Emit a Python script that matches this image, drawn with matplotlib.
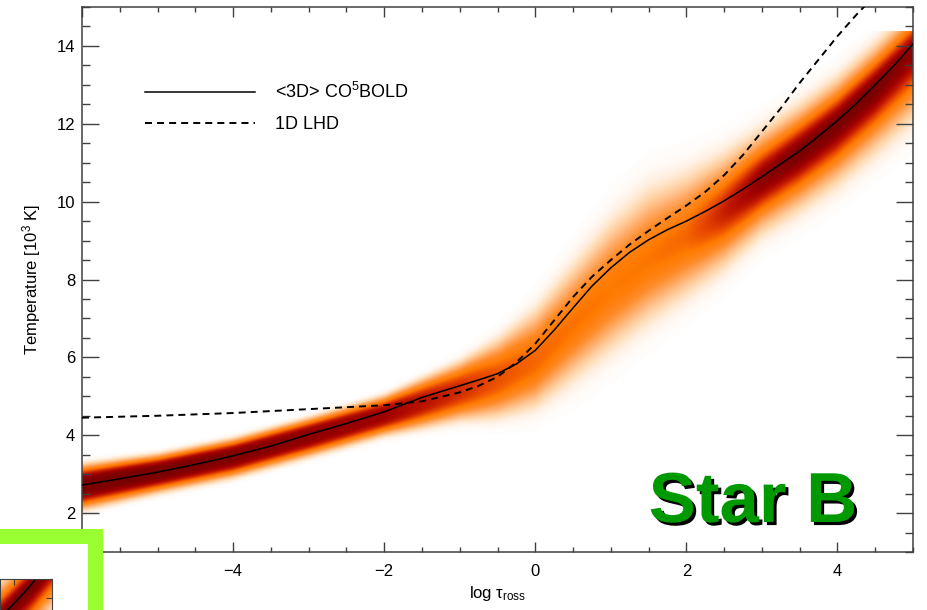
import matplotlib
matplotlib.use("Agg")
import matplotlib.pyplot as plt
import matplotlib.patheffects as pe
from matplotlib.colors import LinearSegmentedColormap
from matplotlib.lines import Line2D
from matplotlib.patches import Rectangle
from matplotlib.ticker import MultipleLocator, FuncFormatter
import numpy as np

plt.rcParams['font.family'] = ['Liberation Sans', 'DejaVu Sans']
plt.rcParams['mathtext.fontset'] = 'custom'
plt.rcParams['mathtext.rm'] = 'Liberation Sans'
plt.rcParams['mathtext.it'] = 'Liberation Sans'

# <3D> CO5BOLD mean temperature profile
mean_x = [-6.0, -5.5, -5.0, -4.5, -4.0, -3.5, -3.0, -2.5, -2.0, -1.5, -1.0, -0.75, -0.5, -0.25,
          0.0, 0.25, 0.5, 0.75, 1.0, 1.25, 1.5, 1.75, 2.0, 2.25, 2.5, 2.75, 3.0, 3.25,
          3.5, 3.75, 4.0, 4.25, 4.5, 4.75, 5.0]
mean_t = [2.72, 2.88, 3.05, 3.25, 3.47, 3.72, 4.02, 4.3, 4.6, 4.97, 5.27, 5.42, 5.58, 5.83,
          6.18, 6.7, 7.27, 7.83, 8.3, 8.7, 9.02, 9.28, 9.5, 9.75, 10.02, 10.32, 10.64, 10.97,
          11.3, 11.68, 12.08, 12.52, 13.0, 13.5, 14.05]

# 1D LHD temperature profile
lhd_x = [-6.0, -5.0, -4.0, -3.0, -2.0, -1.5, -1.0, -0.75, -0.5, -0.25, 0.0, 0.25, 0.5, 0.75,
         1.0, 1.25, 1.5, 1.75, 2.0, 2.25, 2.5, 2.75, 3.0, 3.25, 3.5, 3.75, 4.0, 4.25, 4.4]
lhd_t = [4.45, 4.5, 4.57, 4.67, 4.77, 4.87, 5.1, 5.27, 5.5, 5.87, 6.35, 6.95, 7.55, 8.07,
         8.5, 8.9, 9.25, 9.58, 9.9, 10.25, 10.68, 11.2, 11.8, 12.4, 13.05, 13.65, 14.25, 14.8, 15.1]

# 3D temperature distribution (band)
band_x = [-6, -5, -4, -3, -2, -1, -0.5, 0, 0.5, 1, 1.5, 2, 2.5, 3, 3.5, 4, 4.5, 5]
band_mid = [2.7, 3.05, 3.45, 3.98, 4.52, 5.15, 5.45, 5.9, 6.85, 7.75, 8.5, 9.1, 9.75, 10.55, 11.25, 12.0, 12.9, 13.9]
band_up = [0.65, 0.55, 0.55, 0.55, 0.6, 0.9, 1.25, 1.7, 2.0, 2.3, 2.4, 2.1, 1.85, 1.6, 1.5, 1.45, 1.4, 1.3]
band_dn = [0.75, 0.65, 0.65, 0.65, 0.65, 0.95, 1.25, 1.55, 1.9, 2.1, 2.1, 2.0, 1.85, 1.7, 1.8, 1.9, 2.0, 2.2]
band_peak = [1.0, 1.0, 0.98, 0.95, 0.9, 0.75, 0.66, 0.6, 0.57, 0.55, 0.56, 0.6, 0.78, 0.95, 1.0, 1.0, 1.0, 0.95]
band_pow = [3.5, 3.5, 3.5, 3.5, 3.3, 3.0, 2.7, 2.4, 2.2, 2.2, 2.2, 2.2, 2.2, 2.2, 2.2, 2.2, 2.2, 2.2]
t_max_hist = 14.4

cmap = LinearSegmentedColormap.from_list("heat", [
    (0.0, "#ffffff"), (0.04, "#fff3e8"), (0.12, "#ffd9b0"), (0.25, "#ffb070"),
    (0.4, "#ff8c2a"), (0.55, "#ff7a00"), (0.68, "#e84800"), (0.8, "#c01800"),
    (0.9, "#a00000"), (1.0, "#7a0000")])

gx = np.linspace(-6, 5, 600)
gt = np.linspace(1, 15, 500)
X, T = np.meshgrid(gx, gt)
mid = np.interp(X, band_x, band_mid)
up = np.interp(X, band_x, band_up)
dn = np.interp(X, band_x, band_dn)
peak = np.interp(X, band_x, band_peak)
pw = np.interp(X, band_x, band_pow)
d = T - mid
s = np.where(d > 0, up, dn)
k = 3.5 ** (1 / pw)
dens = peak * np.exp(-(np.abs(d) / s * k) ** pw)
dens[T > t_max_hist] = 0

fig = plt.figure(figsize=(9.27, 6.10), dpi=100)
ax = fig.add_axes([82 / 927, 1 - 552 / 610, 831 / 927, 545 / 610])

ax.imshow(dens, extent=[-6, 5, 1, 15], origin='lower', aspect='auto',
          cmap=cmap, vmin=0, vmax=1, interpolation='bilinear', zorder=1)
ax.plot(mean_x, mean_t, color='black', lw=1.1, zorder=3)
ax.plot(lhd_x, lhd_t, color='black', lw=1.4, ls=(0, (3.6, 2.6)), zorder=3)

ax.set_xlim(-6, 5)
ax.set_ylim(1, 15)
ax.xaxis.set_major_locator(MultipleLocator(2))
ax.xaxis.set_minor_locator(MultipleLocator(0.5))
ax.yaxis.set_major_locator(MultipleLocator(2))
ax.yaxis.set_minor_locator(MultipleLocator(0.5))
ax.tick_params(axis='both', which='both', direction='in', top=True, right=True,
               labelsize=12, color='#404040', width=1)
ax.tick_params(axis='x', which='major', length=7, pad=9)
ax.tick_params(axis='x', which='minor', length=3.5)
ax.tick_params(axis='y', which='major', length=12, pad=5)
ax.tick_params(axis='y', which='minor', length=6)
for sp in ax.spines.values():
    sp.set_color('#404040')
    sp.set_linewidth(1.1)
ax.xaxis.set_major_formatter(FuncFormatter(lambda v, p: f"{v:g}".replace('-', '\u2212')))
ax.yaxis.set_major_formatter(FuncFormatter(lambda v, p: f"{v:g}"))

ax.set_xlabel(r'log τ$_{\mathrm{ross}}$', fontsize=12, labelpad=3)
ax.set_ylabel(r'Temperature [10$^{3}$ K]', fontsize=12, labelpad=10)

handles = [Line2D([], [], color='black', lw=1.1),
           Line2D([], [], color='black', lw=1.4, ls=(0, (3.6, 2.6)))]
ax.legend(handles, [r'<3D> CO$^{5}$BOLD', '1D LHD'], loc='upper left',
          bbox_to_anchor=(0.0758, 0.862), frameon=False, fontsize=13,
          handlelength=6.1, handletextpad=1.1, labelspacing=0.75,
          borderpad=0, borderaxespad=0)

ax.text(0.8075, 0.055, 'Star B', transform=ax.transAxes, ha='center', va='baseline',
        fontsize=51, fontweight='bold', color='#009a00', zorder=5,
        path_effects=[pe.SimplePatchShadow(offset=(2.2, -2.2), shadow_rgbFace='black', alpha=1),
                      pe.Normal()])

# green frame of the neighbouring panel
fig.add_artist(Rectangle((-20 / 927, -20 / 610), (94.5 + 20) / 927, (610 - 535.5 + 20) / 610,
                         transform=fig.transFigure, facecolor='white', edgecolor='#99ff33',
                         linewidth=10.8, zorder=5))

# small piece of the neighbouring panel
ins = fig.add_axes([0, 0, 52 / 927, 31 / 610], zorder=10)
ins.imshow(dens, extent=[-6, 5, 1, 15], origin='lower', aspect='auto',
           cmap=cmap, vmin=0, vmax=1, interpolation='bilinear')
ins.plot(mean_x, mean_t, color='black', lw=1.1)
ins.set_xlim(3.3, 4.5)
ins.set_ylim(11.27, 12.3)
ins.set_xticks([3.62])
ins.set_yticks([11.67])
ins.tick_params(direction='in', top=True, right=True, bottom=False, left=False,
                labelbottom=False, labelleft=False, length=4, color='#404040')
for sp in ins.spines.values():
    sp.set_color('#404040')

fig.savefig('out.png', dpi=100)
